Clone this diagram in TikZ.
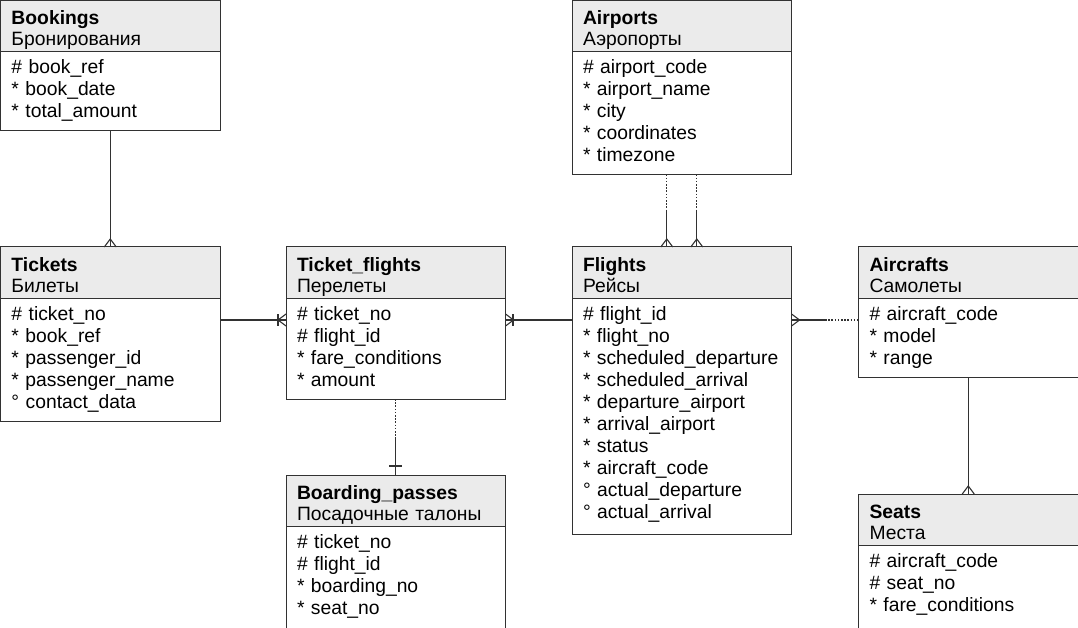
\documentclass[tikz,border=0pt]{standalone}
\usepackage{fontspec}
\setmainfont{Liberation Sans}
\usetikzlibrary{positioning,calc}
\setlength{\parindent}{0pt}

\definecolor{hdrgray}{RGB}{235,235,235}
\definecolor{edgegray}{RGB}{50,50,50}

\newcommand{\headfont}{\fontsize{19.3}{21}\selectfont}
\newcommand{\attrfont}{\fontsize{19.3}{22}\selectfont}

% crow's foot (many) and bar (one) at a box edge
\newcommand{\crowup}[1]{\draw[rel] ($(#1)+(-6,0)$) -- ($(#1)+(0,-8)$) -- ($(#1)+(6,0)$);}
\newcommand{\crowleft}[1]{\draw[rel] ($(#1)+(0,-6)$) -- ($(#1)+(-8,0)$) -- ($(#1)+(0,6)$);}
\newcommand{\crowright}[1]{\draw[rel] ($(#1)+(0,-6)$) -- ($(#1)+(8,0)$) -- ($(#1)+(0,6)$);}
\newcommand{\barup}[1]{\draw[rel] ($(#1)+(-6.5,-9)$) -- ($(#1)+(6.5,-9)$);}
\newcommand{\barleft}[1]{\draw[rel] ($(#1)+(-8,-6)$) -- ($(#1)+(-8,6)$);}
\newcommand{\barright}[1]{\draw[rel] ($(#1)+(7.5,-6)$) -- ($(#1)+(7.5,6)$);}

\begin{document}
\begin{tikzpicture}[x=1pt, y=-1pt,
  every node/.style={inner sep=0pt, outer sep=0pt},
  head/.style ={draw=edgegray, line width=1pt, fill=hdrgray, anchor=north west,
                minimum width=219.5pt, text width=197.5pt, align=left,
                inner xsep=11pt, font=\headfont,
                execute at begin node={\rule{0pt}{24.5pt}},
                execute at end node={\rule[-5.5pt]{0pt}{5.5pt}}},
  attrs/.style={draw=edgegray, line width=1pt, fill=white,
                minimum width=219.5pt, text width=197.5pt, align=left,
                inner xsep=11pt, font=\attrfont,
                execute at begin node={\rule{0pt}{22pt}},
                execute at end node={\rule[-13pt]{0pt}{13pt}}},
  deep/.style  ={execute at end node={\rule[-#1]{0pt}{#1}}},
  rel/.style   ={draw=edgegray, line width=1.1pt},
  reldot/.style={rel, dash pattern=on 1.6pt off 1.6pt}]

\useasboundingbox (0,0) rectangle (1078,628);

%% -- Left column ----------------------------------------------------
\node[head]  (bookings)  at (0.5,0.5) {\textbf{Bookings}\\Бронирования};
\node[attrs, below=0pt of bookings] (bookingsA)
  {\# book\_ref\\{}* book\_date\\{}* total\_amount};

\node[head]  (tickets)   at (0.5,247) {\textbf{Tickets}\\Билеты};
\node[attrs, below=0pt of tickets] (ticketsA)
  {\# ticket\_no\\{}* book\_ref\\{}* passenger\_id\\{}* passenger\_name\\° contact\_data};

%% -- Second column --------------------------------------------------
\node[head]  (tflights)  at (286,247) {\textbf{Ticket\_flights}\\Перелеты};
\node[attrs, below=0pt of tflights] (tflightsA)
  {\# ticket\_no\\\# flight\_id\\{}* fare\_conditions\\{}* amount};

\node[head]  (boarding)  at (286,475) {\textbf{Boarding\_passes}\\Посадочные талоны};
\node[attrs, deep=20pt, below=0pt of boarding] (boardingA)
  {\# ticket\_no\\\# flight\_id\\{}* boarding\_no\\{}* seat\_no};

%% -- Third column ---------------------------------------------------
\node[head]  (airports)  at (572,0.5) {\textbf{Airports}\\Аэропорты};
\node[attrs, below=0pt of airports] (airportsA)
  {\# airport\_code\\{}* airport\_name\\{}* city\\{}* coordinates\\{}* timezone};

\node[head]  (flights)   at (572,247) {\textbf{Flights}\\Рейсы};
\node[attrs, deep=16pt, below=0pt of flights] (flightsA)
  {\# flight\_id\\{}* flight\_no\\{}* scheduled\_departure\\{}* scheduled\_arrival\\
   {}* departure\_airport\\{}* arrival\_airport\\{}* status\\{}* aircraft\_code\\
   ° actual\_departure\\° actual\_arrival};

%% -- Right column ---------------------------------------------------
\node[head]  (aircrafts) at (858.5,247) {\textbf{Aircrafts}\\Самолеты};
\node[attrs, below=0pt of aircrafts] (aircraftsA)
  {\# aircraft\_code\\{}* model\\{}* range};

\node[head]  (seats)     at (858.5,494) {\textbf{Seats}\\Места};
\node[attrs, deep=24pt, below=0pt of seats] (seatsA)
  {\# aircraft\_code\\\# seat\_no\\{}* fare\_conditions};

%% -- Relationships --------------------------------------------------
% bookings -> tickets
\draw[rel] (bookingsA.south) -- (tickets.north);
\crowup{tickets.north}

% tickets -> ticket_flights
\coordinate (tkR) at ([yshift=-22pt]ticketsA.north east);
\coordinate (tfL) at ([yshift=-22pt]tflightsA.north west);
\draw[rel] (tkR) -- (tfL);
\crowleft{tfL}
\barleft{tfL}

% flights -> ticket_flights
\coordinate (tfR) at ([yshift=-22pt]tflightsA.north east);
\coordinate (flL) at ([yshift=-22pt]flightsA.north west);
\draw[rel] (flL) -- (tfR);
\crowright{tfR}
\barright{tfR}

% aircrafts -> flights
\coordinate (flR) at ([yshift=-22pt]flightsA.north east);
\coordinate (acL) at ([yshift=-22pt]aircraftsA.north west);
\draw[rel]    (flR) -- ($(flR)!0.5!(acL)$);
\draw[reldot] ($(flR)!0.5!(acL)$) -- (acL);
\crowright{flR}

% airports -> flights (departure, arrival)
\coordinate (apL) at ([xshift=-15pt]airportsA.south);
\coordinate (apR) at ([xshift=15pt]airportsA.south);
\coordinate (fdep) at ([xshift=-15pt]flights.north);
\coordinate (farr) at ([xshift=15pt]flights.north);
\draw[reldot] (apL) -- ($(apL)!0.5!(fdep)$);
\draw[rel]    ($(apL)!0.5!(fdep)$) -- (fdep);
\draw[reldot] (apR) -- ($(apR)!0.5!(farr)$);
\draw[rel]    ($(apR)!0.5!(farr)$) -- (farr);
\crowup{fdep}
\crowup{farr}

% ticket_flights -> boarding_passes
\draw[reldot] (tflightsA.south) -- ($(tflightsA.south)!0.5!(boarding.north)$);
\draw[rel]    ($(tflightsA.south)!0.5!(boarding.north)$) -- (boarding.north);
\barup{boarding.north}

% aircrafts -> seats
\draw[rel] (aircraftsA.south) -- (seats.north);
\crowup{seats.north}
\end{tikzpicture}
\end{document}
